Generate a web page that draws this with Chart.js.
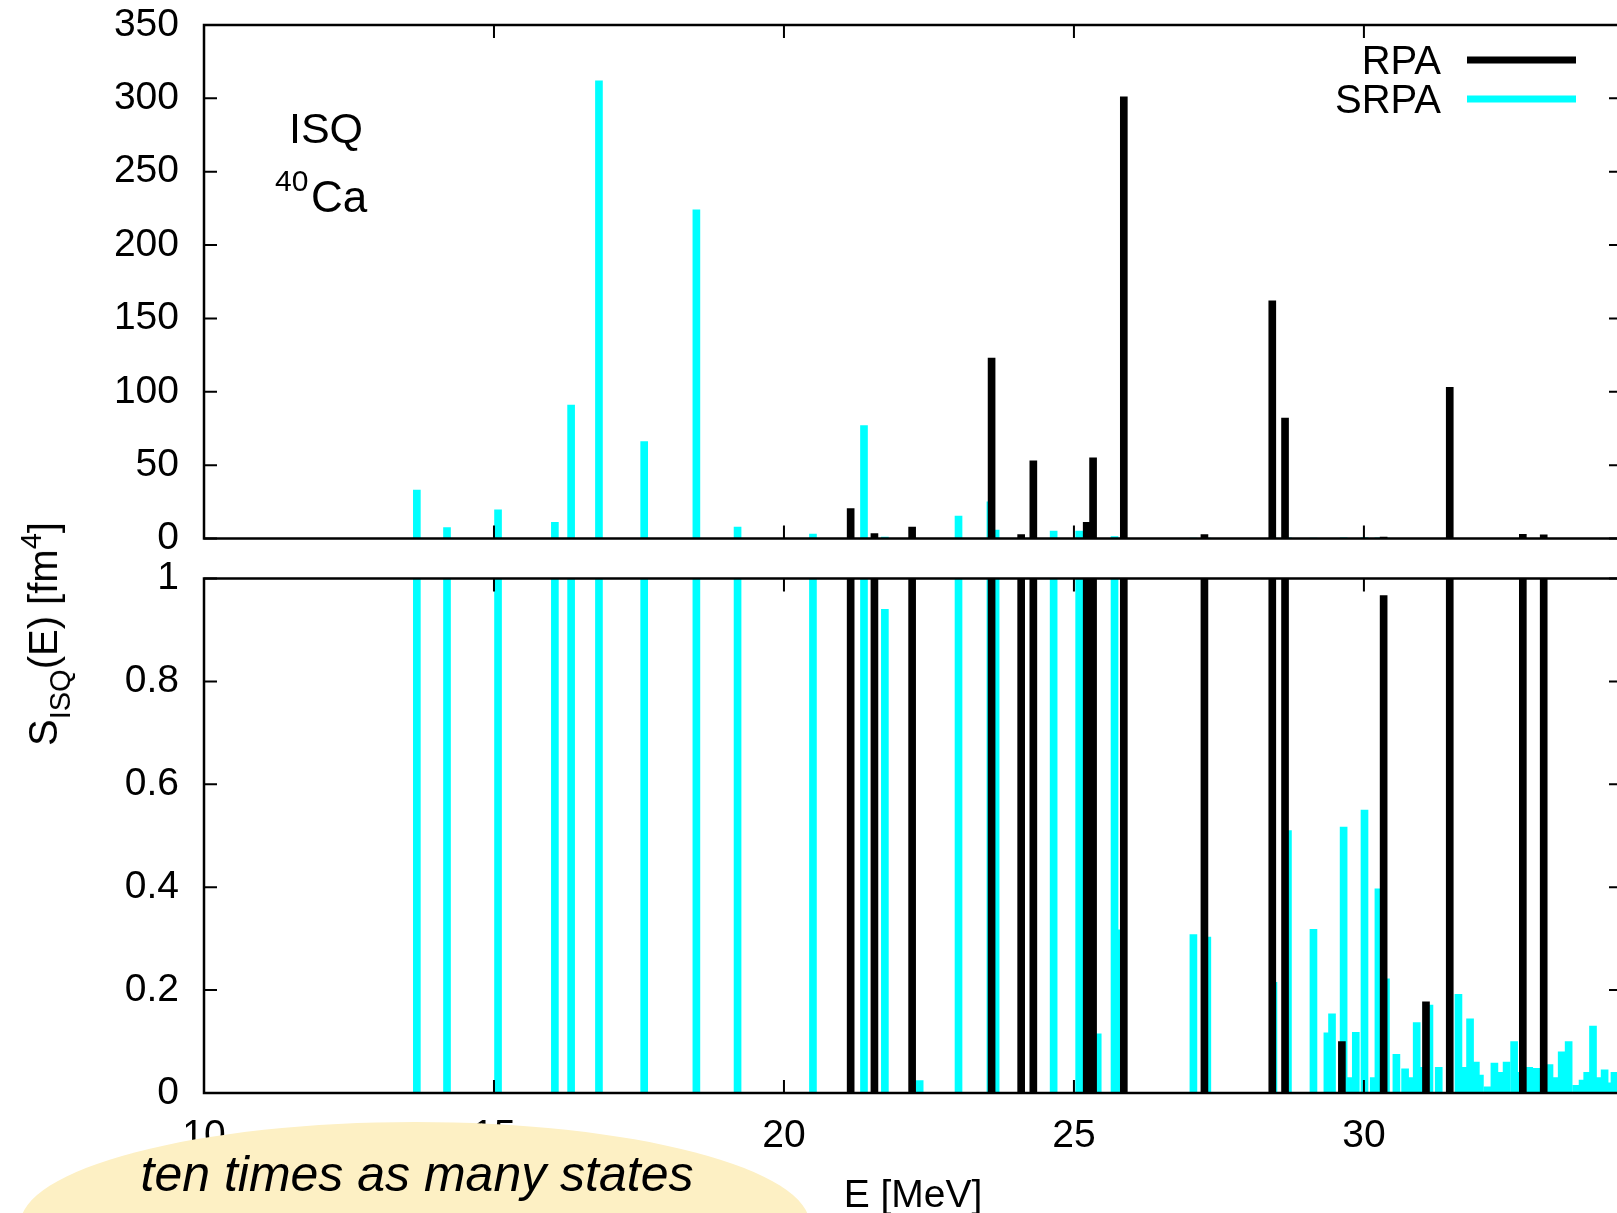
<!DOCTYPE html>
<html>
<head>
<meta charset="utf-8">
<title>ISQ 40Ca RPA vs SRPA</title>
<script src="https://cdn.jsdelivr.net/npm/chart.js@4.4.1/dist/chart.umd.min.js"></script>
<style>
  html, body { margin: 0; padding: 0; background: #fff; overflow: hidden; }
  #wrap { position: relative; width: 1617px; height: 1213px; overflow: hidden;
          font-family: "Liberation Sans", Arial, sans-serif; color: #000; }
  canvas { position: absolute; left: 0; }
  #ytitle { position: absolute; left: 42.5px; top: 634px; font-size: 40px; line-height: 40px;
            white-space: nowrap; transform: translate(-50%, -50%) rotate(-90deg); }
  #ytitle span { font-size: 29px; line-height: 0; position: relative; }
  #blob { position: absolute; left: 20px; top: 1122px; width: 790px; height: 206px;
          border-radius: 50%; background: #fdf0c4; }
  #blobText { position: absolute; left: 0; top: 1149px; width: 834px; text-align: center;
              font-style: italic; font-size: 50px; line-height: 50px; white-space: nowrap; }
</style>
</head>
<body>
<div id="wrap">
  <canvas id="topChart" width="1625" height="600" style="top:0;width:1625px;height:600px"></canvas>
  <canvas id="bottomChart" width="1625" height="680" style="top:550px;width:1625px;height:680px"></canvas>
  <div id="ytitle">S<span style="top:13px">ISQ</span>(E) [fm<span style="top:-16px">4</span>]</div>
  <div id="blob"></div>
  <div id="blobText">ten times as many states</div>
</div>
<script>
// energies in MeV, strengths in fm^4
var rpaEnergy   = [21.15, 21.56, 22.21, 23.58, 24.09, 24.30, 25.22, 25.33, 25.86, 27.25,
                   28.42, 28.64, 29.62, 30.34, 31.07, 31.48, 32.74, 33.10];
var rpaStrength = [20.4, 3.3, 7.8, 123, 2.6, 53, 11, 55, 301, 2.6,
                   162, 82, 0.10, 0.967, 0.177, 103, 2.8, 2.5];

var srpaEnergy   = [13.67, 14.19, 15.07, 16.05, 16.33, 16.81, 17.59, 18.49, 19.20, 20.50,
                    21.38, 21.74, 22.34, 23.01, 23.56, 23.65, 24.65, 25.09, 25.41, 25.70,
                    25.80, 27.06, 27.30, 28.44, 28.69, 29.13, 29.37, 29.45, 29.65, 29.73,
                    29.86, 30.01, 30.17, 30.25, 30.38, 30.56, 30.71, 30.82, 30.91, 31.00,
                    31.13, 31.29, 31.63, 31.72, 31.83, 31.93, 32.00, 32.13, 32.25, 32.37,
                    32.46, 32.59, 32.67, 32.85, 32.98, 33.20, 33.31, 33.41, 33.53, 33.66,
                    33.77, 33.85, 33.95, 34.03, 34.15, 34.24, 34.32];
var srpaStrength = [33, 7.5, 19.5, 11, 91, 312, 66, 224, 7.8, 3,
                    77, 0.94, 0.024, 15.3, 25, 5.8, 5, 5, 0.115, 1.3,
                    0.317, 0.308, 0.303, 0.215, 0.51, 0.318, 0.117, 0.154, 0.517, 0.03,
                    0.118, 0.55, 0.03, 0.397, 0.222, 0.075, 0.047, 0.03, 0.137, 0.05,
                    0.171, 0.05, 0.192, 0.05, 0.144, 0.06, 0.035, 0.012, 0.058, 0.04,
                    0.06, 0.1, 0.04, 0.05, 0.048, 0.055, 0.03, 0.08, 0.1, 0.015,
                    0.025, 0.04, 0.13, 0.03, 0.045, 0.02, 0.04];

var xTicks = [10, 15, 20, 25, 30];
var topYTicks = [0, 50, 100, 150, 200, 250, 300, 350];
var bottomYTicks = [0, 0.2, 0.4, 0.6, 0.8, 1];

Chart.defaults.font.family = '"Liberation Sans", Arial, sans-serif';
Chart.defaults.font.size = 39;
Chart.defaults.color = '#000';

function points(xs, ys) {
  return xs.map(function (x, i) { return { x: x, y: ys[i] }; });
}

function makeDatasets() {
  return [
    { label: 'RPA', data: points(rpaEnergy, rpaStrength), backgroundColor: '#000000',
      barThickness: 7, stack: 'e', clip: 0 },
    { label: 'SRPA', data: points(srpaEnergy, srpaStrength), backgroundColor: '#00ffff',
      barThickness: 7, stack: 'e', clip: 0 }
  ];
}

// frame and inward ticks on all four sides, gnuplot style
var frame = {
  id: 'frame',
  afterDatasetsDraw: function (chart) {
    var ctx = chart.ctx, a = chart.chartArea, sx = chart.scales.x, sy = chart.scales.y;
    ctx.save();
    ctx.strokeStyle = '#000';
    ctx.lineWidth = 2;
    ctx.beginPath();
    sx.ticks.forEach(function (t) {
      var px = sx.getPixelForValue(t.value);
      ctx.moveTo(px, a.top); ctx.lineTo(px, a.top + 13);
      ctx.moveTo(px, a.bottom); ctx.lineTo(px, a.bottom - 13);
    });
    sy.ticks.forEach(function (t) {
      var py = sy.getPixelForValue(t.value);
      ctx.moveTo(a.left, py); ctx.lineTo(a.left + 13, py);
      ctx.moveTo(a.right, py); ctx.lineTo(a.right - 13, py);
    });
    ctx.stroke();
    ctx.lineWidth = 2.5;
    ctx.strokeRect(a.left, a.top, a.right - a.left, a.bottom - a.top);
    ctx.restore();
  }
};

// labels and key of the upper panel
var topLabels = {
  id: 'topLabels',
  afterDraw: function (chart) {
    var ctx = chart.ctx;
    var fam = '"Liberation Sans", Arial, sans-serif';
    ctx.save();
    ctx.fillStyle = '#000';
    ctx.textBaseline = 'alphabetic';
    ctx.font = '43px ' + fam;
    ctx.textAlign = 'center';
    ctx.fillText('ISQ', 326, 143);
    ctx.textAlign = 'left';
    ctx.font = '30px ' + fam;
    ctx.fillText('40', 275, 191);
    ctx.font = '44px ' + fam;
    ctx.fillText('Ca', 311, 212);

    var keyY = [60, 99];
    chart.data.datasets.forEach(function (ds, i) {
      ctx.font = '40px ' + fam;
      ctx.textAlign = 'right';
      ctx.fillStyle = '#000';
      ctx.fillText(ds.label, 1441, keyY[i] + 14);
      ctx.strokeStyle = ds.backgroundColor;
      ctx.lineWidth = 7;
      ctx.beginPath();
      ctx.moveTo(1467, keyY[i]);
      ctx.lineTo(1576, keyY[i]);
      ctx.stroke();
    });
    ctx.restore();
  }
};

function setTicks(list) {
  return function (scale) {
    scale.ticks = list.map(function (v) { return { value: v }; });
  };
}

// fixed axis sizes; drop the label overhang padding so the plot frames sit where they should
function fixWidth(w) {
  return function (s) {
    s.width = w;
    s.paddingTop = 0; s.paddingBottom = 0;
  };
}
function fixHeight(h) {
  return function (s) {
    s.height = h;
    s.paddingLeft = 0; s.paddingRight = 0;
  };
}

var common = {
  responsive: false,
  maintainAspectRatio: false,
  animation: false,
  events: [],
  plugins: { legend: { display: false }, tooltip: { enabled: false } }
};

new Chart(document.getElementById('topChart'), {
  type: 'bar',
  data: { datasets: makeDatasets() },
  options: Object.assign({}, common, {
    layout: { padding: { top: 25, right: 3, left: 0, bottom: 0 } },
    scales: {
      x: {
        type: 'linear', min: 10, max: 34.45, offset: false,
        afterBuildTicks: setTicks(xTicks),
        afterFit: fixHeight(61.5),
        grid: { display: false, drawTicks: false },
        border: { display: false },
        ticks: { display: false }
      },
      y: {
        min: 0, max: 350, stacked: false,
        afterBuildTicks: setTicks(topYTicks),
        afterFit: fixWidth(204),
        grid: { display: false, drawTicks: false },
        border: { display: false },
        ticks: { padding: 25, callback: function (v) { return String(v); } }
      }
    }
  }),
  plugins: [frame, topLabels]
});

new Chart(document.getElementById('bottomChart'), {
  type: 'bar',
  data: { datasets: makeDatasets() },
  options: Object.assign({}, common, {
    layout: { padding: { top: 28.5, right: 3, left: 0, bottom: 0 } },
    scales: {
      x: {
        type: 'linear', min: 10, max: 34.45, offset: false,
        afterBuildTicks: setTicks(xTicks),
        afterFit: fixHeight(137),
        grid: { display: false, drawTicks: false },
        border: { display: false },
        ticks: { padding: 20, maxRotation: 0 },
        title: { display: true, text: 'E [MeV]', font: { size: 39 }, padding: { top: 0, bottom: 10 } }
      },
      y: {
        min: 0, max: 1, stacked: false,
        afterBuildTicks: setTicks(bottomYTicks),
        afterFit: fixWidth(204),
        grid: { display: false, drawTicks: false },
        border: { display: false },
        ticks: { padding: 25, callback: function (v) { return String(v); } }
      }
    }
  }),
  plugins: [frame]
});
</script>
</body>
</html>
